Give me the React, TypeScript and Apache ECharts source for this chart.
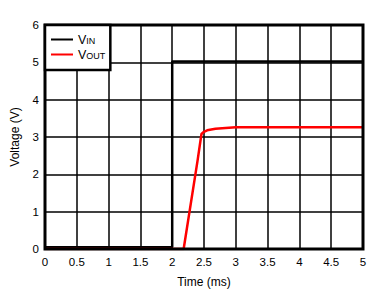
import React, { useEffect, useRef } from "react";
import * as echarts from "echarts";

const timeTicks = [0, 0.5, 1, 1.5, 2, 2.5, 3, 3.5, 4, 4.5, 5];
const vinTime = [0, 2, 2, 5];
const vinValues = [0.05, 0.05, 5.02, 5.02];
const voutTime = [0, 2.18, 2.4, 2.46, 2.5, 2.55, 2.68, 3.0, 5];
const voutValues = [0, 0, 2.38, 3.08, 3.14, 3.18, 3.22, 3.26, 3.26];

export default function App() {
  const ref = useRef<HTMLDivElement>(null);
  useEffect(() => {
    if (!ref.current) return;
    const chart = echarts.init(ref.current, undefined, { renderer: "svg" });
    const font = "'Liberation Sans', Arial, sans-serif";
    chart.setOption({
      animation: false,
      backgroundColor: "#fff",
      grid: {
        left: 45,
        right: 19,
        top: 25,
        bottom: 49,
        show: true,
        borderColor: "#000",
        borderWidth: 3,
        z: 10,
      },
      legend: {
        left: 45,
        top: 25,
        orient: "vertical",
        backgroundColor: "#fff",
        borderColor: "#000",
        borderWidth: 2.5,
        borderRadius: 0,
        padding: [8, 5, 9, 6],
        itemGap: 2,
        itemWidth: 22,
        itemHeight: 12,
        icon: "path://M0,5 L22,5 L22,7 L0,7 Z",
        data: ["VIN", "VOUT"],
        formatter: (name: string) => `{a|V}{b|${name.slice(1)}}`,
        textStyle: {
          rich: {
            a: { fontSize: 12.5, fontFamily: font, color: "#000" },
            b: { fontSize: 9, fontFamily: font, color: "#000", padding: [3, 0, 0, 0] },
          },
        },
        z: 20,
      },
      xAxis: {
        type: "value",
        min: 0,
        max: 5,
        interval: 0.5,
        name: "Time (ms)",
        nameLocation: "middle",
        nameGap: 27,
        nameTextStyle: { fontSize: 12, fontFamily: font, color: "#000" },
        axisLine: { show: false },
        axisTick: { show: false },
        axisLabel: {
          fontSize: 11.5,
          fontFamily: font,
          color: "#000",
          margin: 7,
          formatter: (v: number) => (timeTicks.includes(v) ? String(v) : ""),
        },
        splitLine: { show: true, lineStyle: { color: "#000", width: 1.5 } },
      },
      yAxis: {
        type: "value",
        min: 0,
        max: 6,
        interval: 1,
        name: "Voltage (V)",
        nameLocation: "middle",
        nameGap: 24,
        nameTextStyle: { fontSize: 12, fontFamily: font, color: "#000" },
        axisLine: { show: false },
        axisTick: { show: false },
        axisLabel: { fontSize: 11.5, fontFamily: font, color: "#000", margin: 6 },
        splitLine: { show: true, lineStyle: { color: "#000", width: 1.5 } },
      },
      series: [
        {
          name: "VIN",
          type: "line",
          symbol: "none",
          data: vinTime.map((t, i) => [t, vinValues[i]]),
          lineStyle: { color: "#000", width: 2.5 },
          itemStyle: { color: "#000" },
        },
        {
          name: "VOUT",
          type: "line",
          symbol: "none",
          data: voutTime.map((t, i) => [t, voutValues[i]]),
          lineStyle: { color: "#ff0000", width: 2.5 },
          itemStyle: { color: "#ff0000" },
        },
      ],
    });
    return () => chart.dispose();
  }, []);
  return <div ref={ref} style={{ width: 382, height: 298, position: "absolute", left: 0, top: 0 }} />;
}
